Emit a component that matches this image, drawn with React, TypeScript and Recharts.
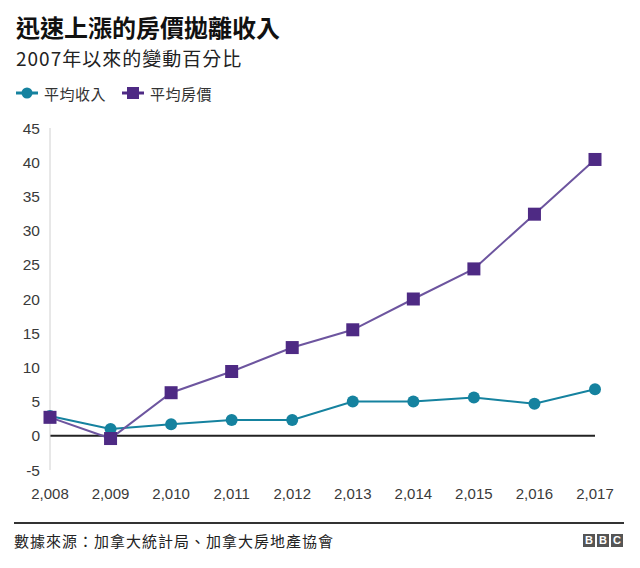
import React from "react";
import { LineChart, Line, XAxis, YAxis, ReferenceLine } from "recharts";

const years = ["2,008", "2,009", "2,010", "2,011", "2,012", "2,013", "2,014", "2,015", "2,016", "2,017"];
const incomeValues = [2.9, 1.0, 1.7, 2.3, 2.3, 5.0, 5.0, 5.6, 4.7, 6.8];
const priceValues = [2.7, -0.4, 6.3, 9.4, 12.9, 15.5, 20.0, 24.4, 32.4, 40.4];
const yTicks = [-5, 0, 5, 10, 15, 20, 25, 30, 35, 40, 45];

const TEAL = "#15829f";
const PURPLE = "#4e2a84";
const PURPLE_LINE = "#6d559f";
const TEXT = "#3a3a3a";
const CJK = '"Noto Sans CJK TC", "Noto Sans", sans-serif';
const LATIN = '"Liberation Sans", Arial, sans-serif';

const data = years.map((year, i) => ({ year, income: incomeValues[i], price: priceValues[i] }));

const SquareDot = (props: any) => {
  const { cx, cy } = props;
  if (cx == null || cy == null) return null;
  return <rect x={cx - 6.5} y={cy - 6.5} width={13} height={13} fill={PURPLE} />;
};

const CircleDot = (props: any) => {
  const { cx, cy } = props;
  if (cx == null || cy == null) return null;
  return <circle cx={cx} cy={cy} r={6} fill={TEAL} />;
};

export default function App() {
  return (
    <div style={{ position: "absolute", left: 0, top: 0, width: 640, height: 568, background: "#fff", overflow: "hidden" }}>
      <div style={{ position: "absolute", left: 16, top: 14, fontFamily: CJK, fontWeight: 700, fontSize: 24, color: "#111", lineHeight: "26px", whiteSpace: "nowrap" }}>
        迅速上漲的房價拋離收入
      </div>
      <div style={{ position: "absolute", left: 16, top: 47, fontFamily: CJK, fontSize: 19, color: "#222", lineHeight: "21px", whiteSpace: "nowrap", letterSpacing: 1 }}>
        2007年以來的變動百分比
      </div>
      <div style={{ position: "absolute", left: 16, top: 82, height: 22, display: "flex", alignItems: "center", fontFamily: CJK, fontSize: 15, color: "#333", whiteSpace: "nowrap", letterSpacing: 0.5 }}>
        <svg width={22} height={14} style={{ marginRight: 6 }}>
          <line x1={0} y1={7} x2={22} y2={7} stroke={TEAL} strokeWidth={3} />
          <circle cx={11} cy={7} r={5.5} fill={TEAL} />
        </svg>
        <span>平均收入</span>
        <svg width={22} height={14} style={{ marginLeft: 16, marginRight: 6 }}>
          <line x1={0} y1={7} x2={22} y2={7} stroke={PURPLE} strokeWidth={3} />
          <rect x={5} y={1} width={12} height={12} fill={PURPLE} />
        </svg>
        <span>平均房價</span>
      </div>
      <div style={{ position: "absolute", left: 0, top: 0 }}>
        <LineChart width={640} height={568} data={data} margin={{ top: 128, right: 45, bottom: 68, left: 0 }}>
          <XAxis
            dataKey="year"
            axisLine={false}
            tickLine={false}
            tickMargin={12}
            height={30}
            interval={0}
            tick={{ fill: TEXT, fontSize: 15, fontFamily: LATIN }}
          />
          <YAxis
            width={50}
            domain={[-5, 45]}
            ticks={yTicks}
            interval={0}
            axisLine={{ stroke: "#d0d0d0", strokeWidth: 1 }}
            tickLine={false}
            tickMargin={4}
            tick={{ fill: TEXT, fontSize: 15.5, fontFamily: LATIN }}
          />
          <ReferenceLine y={0} stroke="#222" strokeWidth={2} />
          <Line
            dataKey="income"
            stroke={TEAL}
            strokeWidth={2}
            dot={<CircleDot />}
            activeDot={false}
            isAnimationActive={false}
          />
          <Line
            dataKey="price"
            stroke={PURPLE_LINE}
            strokeWidth={2}
            dot={<SquareDot />}
            activeDot={false}
            isAnimationActive={false}
          />
        </LineChart>
      </div>
      <div style={{ position: "absolute", left: 14, top: 522, width: 610, height: 1.5, background: "#333" }} />
      <div style={{ position: "absolute", left: 14, top: 530, fontFamily: CJK, fontSize: 15, color: "#222", lineHeight: "22px", whiteSpace: "nowrap", letterSpacing: 1 }}>
        數據來源：加拿大統計局、加拿大房地產協會
      </div>
      <div style={{ position: "absolute", left: 583, top: 534, display: "flex", gap: 2 }}>
        {["B", "B", "C"].map((c, i) => (
          <div key={i} style={{ width: 12, height: 13, background: "#555", color: "#fff", fontFamily: LATIN, fontWeight: 700, fontSize: 11, lineHeight: "13px", textAlign: "center" }}>
            {c}
          </div>
        ))}
      </div>
    </div>
  );
}
